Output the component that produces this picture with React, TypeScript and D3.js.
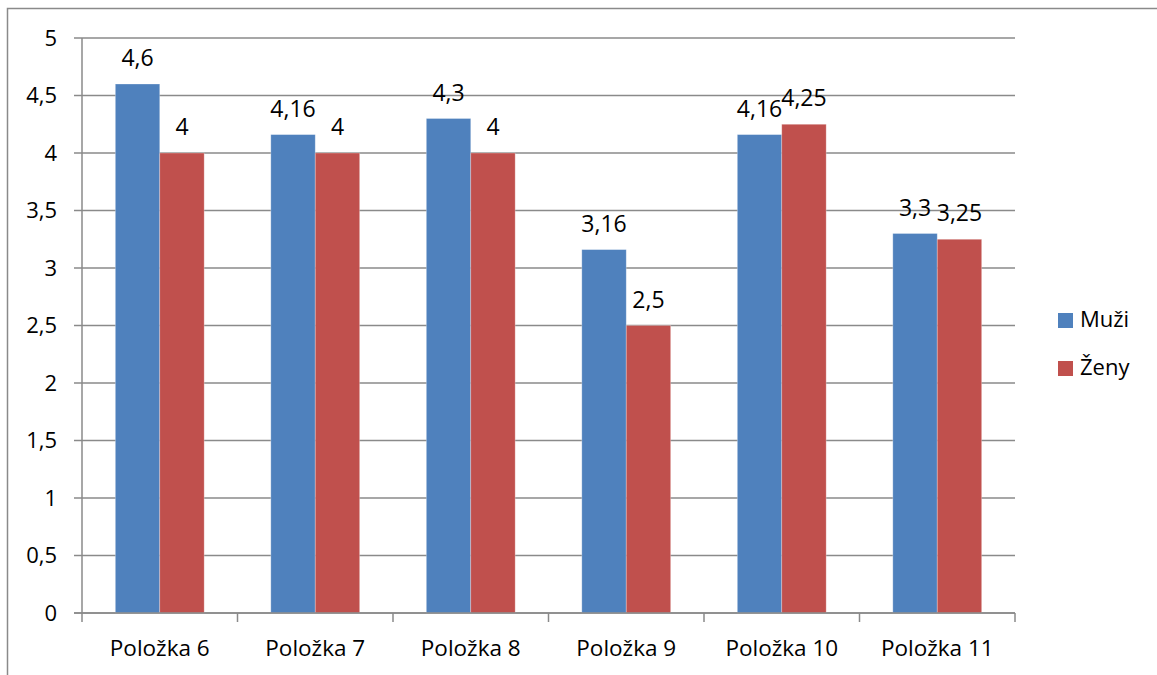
import React from "react";
import * as d3 from "d3";

// Chart data
const categories = ["Položka 6", "Položka 7", "Položka 8", "Položka 9", "Položka 10", "Položka 11"];
const seriesNames = ["Muži", "Ženy"];
const muzi = [4.6, 4.16, 4.3, 3.16, 4.16, 3.3];
const zeny = [4, 4, 4, 2.5, 4.25, 3.25];
const yTicks = [0, 0.5, 1, 1.5, 2, 2.5, 3, 3.5, 4, 4.5, 5];

const COLORS = ["#4F81BD", "#C0504D"];
const GRID = "#8a8a8a";
const FONT = "'Open Sans', 'Liberation Sans', sans-serif";

const W = 1157;
const H = 675;
const plot = { left: 82, right: 1015, top: 38, bottom: 613 };

const fmt = (v: number) => String(v).replace(".", ",");

export default function App() {
  const series = [muzi, zeny];

  const x0 = d3
    .scaleBand<string>()
    .domain(categories)
    .range([plot.left, plot.right])
    .paddingInner(0)
    .paddingOuter(0);

  // gap width 150% of a bar: two bars plus 1.5 bar widths of gap per category
  const barW = x0.bandwidth() / 3.5;
  const groupPad = (x0.bandwidth() - 2 * barW) / 2;

  const y = d3.scaleLinear().domain([0, 5]).range([plot.bottom, plot.top]);

  return (
    <svg
      width={W}
      height={H}
      style={{ position: "absolute", left: 0, top: 0, display: "block", background: "#fff", overflow: "hidden" }}
      fontFamily={FONT}
    >
      {/* outer chart frame (left and top edges inside the view) */}
      <path d={`M7.5,${H + 10} V8.5 H${W + 10}`} fill="none" stroke={GRID} strokeWidth={1.5} />

      {/* horizontal gridlines */}
      {yTicks.map((t) => (
        <line
          key={"g" + t}
          x1={plot.left - 8}
          x2={plot.right}
          y1={y(t)}
          y2={y(t)}
          stroke={GRID}
          strokeWidth={1.5}
        />
      ))}

      {/* y axis line */}
      <line x1={plot.left} x2={plot.left} y1={plot.top} y2={plot.bottom} stroke={GRID} strokeWidth={1.5} />

      {/* y tick labels */}
      {yTicks.map((t) => (
        <text
          key={"yl" + t}
          x={57}
          y={y(t)}
          dy="0.36em"
          textAnchor="end"
          fontSize={22}
          fill="#000"
        >
          {fmt(t)}
        </text>
      ))}

      {/* bars */}
      {categories.map((c, i) =>
        series.map((vals, s) => {
          const bx = (x0(c) as number) + groupPad + s * barW;
          return (
            <rect
              key={c + s}
              x={bx}
              y={y(vals[i])}
              width={barW}
              height={y(0) - y(vals[i])}
              fill={COLORS[s]}
              stroke="#ffffff"
              strokeOpacity={0.35}
              strokeWidth={0.8}
            />
          );
        })
      )}

      {/* value labels */}
      {categories.map((c, i) =>
        series.map((vals, s) => {
          const cx = (x0(c) as number) + groupPad + s * barW + barW / 2;
          return (
            <text
              key={"v" + c + s}
              x={cx}
              y={y(vals[i]) - 18}
              textAnchor="middle"
              fontSize={23}
              fill="#000"
            >
              {fmt(vals[i])}
            </text>
          );
        })
      )}

      {/* x axis line and category ticks */}
      <line x1={plot.left - 8} x2={plot.right} y1={plot.bottom} y2={plot.bottom} stroke={GRID} strokeWidth={1.5} />
      {d3.range(categories.length + 1).map((k) => {
        const tx = plot.left + k * x0.bandwidth();
        return (
          <line key={"xt" + k} x1={tx} x2={tx} y1={plot.bottom} y2={plot.bottom + 9} stroke={GRID} strokeWidth={1.5} />
        );
      })}

      {/* category labels */}
      {categories.map((c) => (
        <text
          key={"cl" + c}
          x={(x0(c) as number) + x0.bandwidth() / 2}
          y={656}
          textAnchor="middle"
          fontSize={22.5}
          fill="#000"
        >
          {c}
        </text>
      ))}

      {/* legend */}
      {seriesNames.map((n, s) => (
        <g key={"lg" + n} transform={`translate(1058, ${313 + s * 48})`}>
          <rect x={0} y={0} width={15} height={15} fill={COLORS[s]} />
          <text x={22} y={14} fontSize={22} fill="#000">
            {n}
          </text>
        </g>
      ))}
    </svg>
  );
}
